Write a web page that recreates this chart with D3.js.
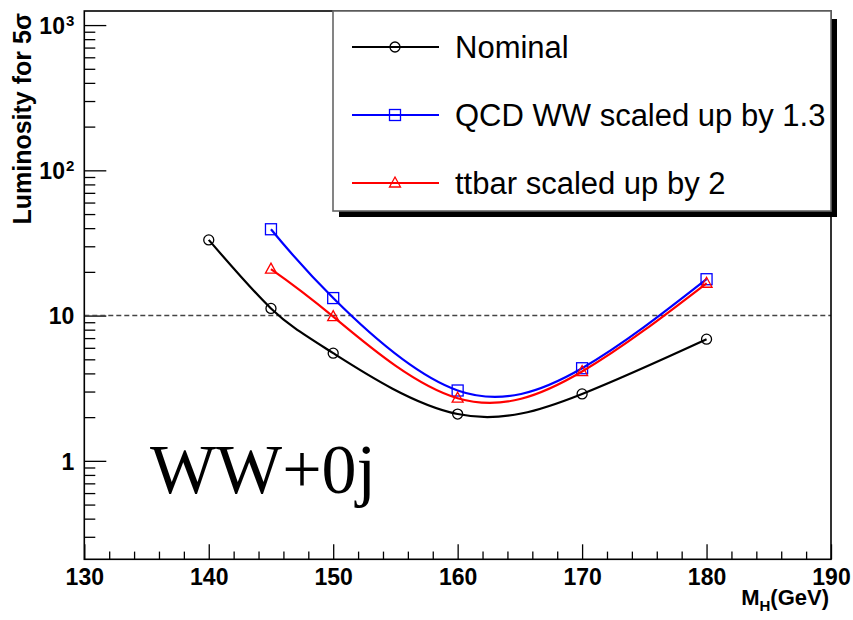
<!DOCTYPE html>
<html>
<head>
<meta charset="utf-8">
<script src="https://cdn.jsdelivr.net/npm/d3@7"></script>
<style>
  html, body { margin: 0; padding: 0; background: #fff; }
  svg { display: block; }
</style>
</head>
<body>
<svg id="chart" width="853" height="620"></svg>
<script>
// Higgs mass points (GeV)
const massNominal = [140, 145, 150, 160, 170, 180];
const massScaled = [145, 150, 160, 170, 180];

// Luminosity needed for a 5 sigma observation
const nominal = [33.2, 11.2, 5.51, 2.10, 2.89, 6.88];
const qcdWW = [39.3, 13.2, 3.05, 4.34, 17.8];
const ttbar = [20.9, 9.84, 2.70, 4.12, 16.7];

// Axis ticks
const xMajorTicks = [130, 140, 150, 160, 170, 180, 190];
const yMajorTicks = [1, 10, 100, 1000];
const yTickLabels = [["1", ""], ["10", ""], ["10", "2"], ["10", "3"]];

const seriesNames = ["Nominal", "QCD WW scaled up by 1.3", "ttbar scaled up by 2"];
const referenceLevel = 10;

const svg = d3.select("#chart");
const plotL = 84.3, plotR = 831, plotT = 11, plotB = 559.3;

const x = d3.scaleLinear().domain([130, 190]).range([plotL, plotR]);
const y = d3.scaleLog().domain([0.21, 1250]).range([plotB, plotT]);

const axisFont = "'Liberation Sans', Arial, Helvetica, sans-serif";

// minor ticks
const xMinorTicks = d3.range(130, 190.01, 2).filter(v => v % 10 !== 0);
const yMinorTicks = [];
[0.1, 1, 10, 100].forEach(d => {
  for (let k = 2; k <= 9; k++) {
    const v = d * k;
    if (v >= 0.21 && v <= 1250) yMinorTicks.push(v);
  }
});

// X axis
const gxMinor = svg.append("g").attr("transform", `translate(0,${plotB})`)
  .call(d3.axisBottom(x).tickValues(xMinorTicks).tickSize(-7.7).tickFormat(""));
const gx = svg.append("g").attr("transform", `translate(0,${plotB})`)
  .call(d3.axisBottom(x).tickValues(xMajorTicks).tickSize(-15).tickPadding(9).tickFormat(d3.format("d")));

// Y axis
const gyMinor = svg.append("g").attr("transform", `translate(${plotL},0)`)
  .call(d3.axisLeft(y).tickValues(yMinorTicks).tickSize(-11).tickFormat(""));
const gy = svg.append("g").attr("transform", `translate(${plotL},0)`)
  .call(d3.axisLeft(y).tickValues(yMajorTicks).tickSize(-22).tickPadding(10).tickFormat(() => ""));

[gx, gxMinor, gy, gyMinor].forEach(g => {
  g.select(".domain").remove();
  g.selectAll(".tick line").attr("stroke", "#000").attr("stroke-width", 1.3);
});
gx.selectAll(".tick text")
  .attr("font-family", axisFont).attr("font-weight", "bold")
  .attr("font-size", 23).attr("fill", "#000");

gy.selectAll(".tick text").each(function (d) {
  const t = d3.select(this)
    .attr("font-family", axisFont).attr("font-weight", "bold")
    .attr("font-size", 23).attr("fill", "#000").attr("dy", "0.36em");
  const lab = yTickLabels[yMajorTicks.indexOf(d)];
  t.append("tspan").text(lab[0]);
  if (lab[1]) {
    t.append("tspan").attr("font-size", 15).attr("dy", "-0.55em").attr("dx", 1).text(lab[1]);
  }
});

// reference line at 10
svg.append("line")
  .attr("x1", plotL).attr("x2", plotR)
  .attr("y1", y(referenceLevel)).attr("y2", y(referenceLevel))
  .attr("stroke", "#444").attr("stroke-width", 1.5).attr("stroke-dasharray", "5,3");

// frame
svg.append("rect")
  .attr("x", plotL).attr("y", plotT).attr("width", plotR - plotL).attr("height", plotB - plotT)
  .attr("fill", "none").attr("stroke", "#000").attr("stroke-width", 1.6);

// axis titles
svg.append("text")
  .attr("transform", "translate(31,13) rotate(-90)")
  .attr("text-anchor", "end")
  .attr("font-family", axisFont).attr("font-weight", "bold").attr("font-size", 25)
  .text("Luminosity for 5σ");

const xt = svg.append("text")
  .attr("x", 829).attr("y", 605).attr("text-anchor", "end")
  .attr("font-family", axisFont).attr("font-weight", "bold").attr("font-size", 22);
xt.append("tspan").text("M");
xt.append("tspan").attr("font-size", 15).attr("dy", 6).text("H");
xt.append("tspan").attr("dy", -6).text("(GeV)");

// series
const series = [
  { name: seriesNames[0], xs: massNominal, ys: nominal, color: "#000000", marker: "circle" },
  { name: seriesNames[1], xs: massScaled, ys: qcdWW, color: "#0000ff", marker: "square" },
  { name: seriesNames[2], xs: massScaled, ys: ttbar, color: "#ff0000", marker: "triangle" }
];

const line = d3.line().x(d => x(d[0])).y(d => y(d[1])).curve(d3.curveNatural);

function drawMarker(g, type, cx, cy, color) {
  if (type === "circle") {
    g.append("circle").attr("cx", cx).attr("cy", cy).attr("r", 5)
      .attr("fill", "none").attr("stroke", color).attr("stroke-width", 1.3);
  } else if (type === "square") {
    g.append("rect").attr("x", cx - 5.5).attr("y", cy - 5.5).attr("width", 11).attr("height", 11)
      .attr("fill", "none").attr("stroke", color).attr("stroke-width", 1.3);
  } else {
    g.append("path")
      .attr("d", `M${cx},${cy - 6} L${cx + 5.5},${cy + 4} L${cx - 5.5},${cy + 4} Z`)
      .attr("fill", "none").attr("stroke", color).attr("stroke-width", 1.3);
  }
}

series.forEach(s => {
  const pts = s.xs.map((m, i) => [m, s.ys[i]]);
  const g = svg.append("g");
  g.append("path").attr("d", line(pts))
    .attr("fill", "none").attr("stroke", s.color).attr("stroke-width", 2.2);
  pts.forEach(p => drawMarker(g, s.marker, x(p[0]), y(p[1]), s.color));
});

// label
svg.append("text")
  .attr("x", 150).attr("y", 493)
  .attr("font-family", "'Liberation Serif', 'Times New Roman', serif")
  .attr("font-size", 70).attr("fill", "#000")
  .text("WW+0j");

// legend
const lg = svg.append("g");
lg.append("rect").attr("x", 339).attr("y", 19).attr("width", 498).attr("height", 198).attr("fill", "#000");
lg.append("rect").attr("x", 333).attr("y", 11).attr("width", 498).attr("height", 200)
  .attr("fill", "#fff").attr("stroke", "#666").attr("stroke-width", 1.6);
const legendY = [47, 115, 183];
series.forEach((s, i) => {
  const yy = legendY[i];
  lg.append("line").attr("x1", 352).attr("x2", 439).attr("y1", yy).attr("y2", yy)
    .attr("stroke", s.color).attr("stroke-width", 2.2);
  drawMarker(lg, s.marker, 395, yy, s.color);
  lg.append("text").attr("x", 455).attr("y", yy).attr("dy", "0.35em")
    .attr("font-family", axisFont).attr("font-size", 31).attr("fill", "#000")
    .text(s.name);
});
</script>
</body>
</html>
